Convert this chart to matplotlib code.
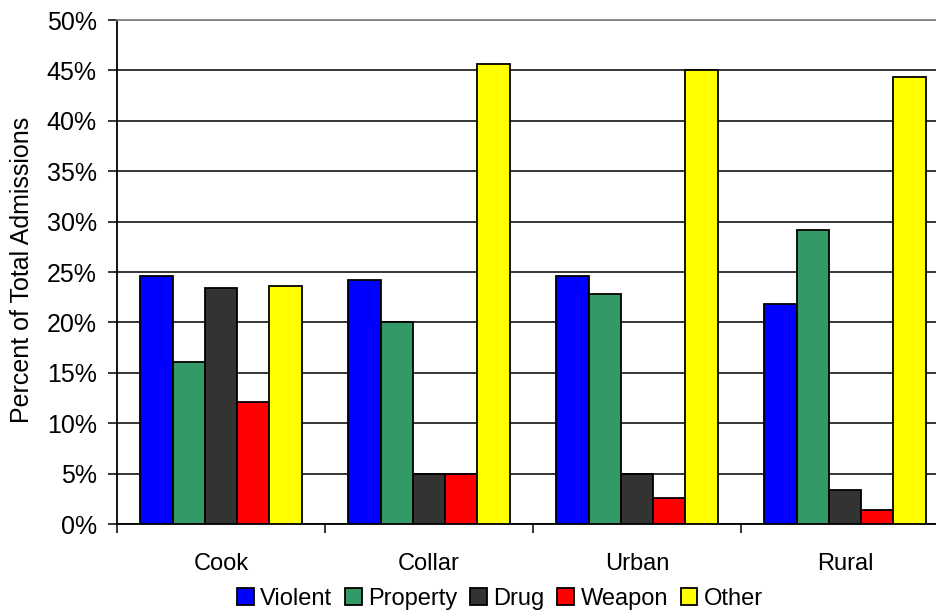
import matplotlib
matplotlib.use("Agg")
import matplotlib.pyplot as plt
import numpy as np

regions = ["Cook", "Collar", "Urban", "Rural"]
series_names = ["Violent", "Property", "Drug", "Weapon", "Other"]
violent = [24.6, 24.2, 24.6, 21.8]
property_ = [16.1, 20.0, 22.8, 29.2]
drug = [23.4, 5.0, 5.0, 3.4]
weapon = [12.1, 5.0, 2.6, 1.4]
other = [23.6, 45.6, 45.0, 44.3]
yticks = [0, 5, 10, 15, 20, 25, 30, 35, 40, 45, 50]
ytick_labels = [f"{v}%" for v in yticks]

series = [violent, property_, drug, weapon, other]
colors = ["#0000FF", "#339966", "#333333", "#FF0000", "#FFFF00"]

plt.rcParams['font.family'] = ['Liberation Sans', 'DejaVu Sans']

W, H = 937, 611
fig = plt.figure(figsize=(W / 100, H / 100), dpi=100)
ax = fig.add_axes([117 / W, (H - 524) / H, 832 / W, 504 / H])

n = len(series)
bw = 0.155
x = np.arange(len(regions)) + 0.5
for i, (vals, c, name) in enumerate(zip(series, colors, series_names)):
    offs = (i - (n - 1) / 2) * bw
    ax.bar(x + offs, vals, width=bw, color=c, edgecolor="black",
           linewidth=1.3, label=name, zorder=3)

ax.set_xlim(0, len(regions))
ax.set_ylim(0, 50)
ax.set_yticks(yticks)
ax.set_yticklabels(ytick_labels)
ax.yaxis.grid(True, color="black", linewidth=1.1, zorder=0)
ax.set_axisbelow(True)

ax.set_xticks(np.arange(len(regions) + 1))
ax.set_xticklabels([])
ax.set_xticks(x, minor=True)
ax.set_xticklabels(regions, minor=True)
ax.tick_params(axis="x", which="minor", length=0, pad=21, labelsize=17)
ax.tick_params(axis="x", which="major", length=6.5, width=1.1, direction="out")
ax.tick_params(axis="y", length=6.5, width=1.1, direction="out", pad=8, labelsize=18)

ax.spines["right"].set_visible(False)
ax.spines["top"].set_color("#888888")
ax.spines["top"].set_linewidth(1.3)
ax.spines["left"].set_linewidth(1.3)
ax.spines["bottom"].set_linewidth(1.3)

fig.text(22 / W, 1 - 270 / H, "Percent of Total Admissions", rotation=90,
         ha="center", va="center", fontsize=18)

fig.legend(loc="center", bbox_to_anchor=(500 / W, 1 - 599 / H), ncol=5,
           frameon=False, fontsize=17, handlelength=0.7, handleheight=0.7,
           handletextpad=0.28, columnspacing=0.54, borderaxespad=0,
           borderpad=0)

fig.savefig("out.png", dpi=100)
